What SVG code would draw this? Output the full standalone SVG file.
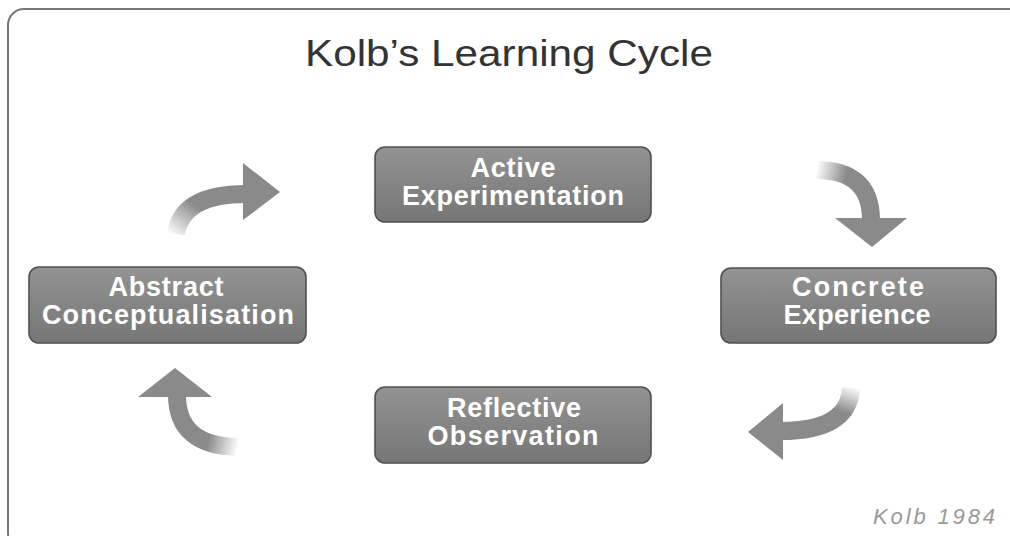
<svg xmlns="http://www.w3.org/2000/svg" width="1010" height="536" viewBox="0 0 1010 536">
<style>
.title{font-family:"Liberation Sans",Arial,sans-serif;font-size:36px;fill:#333;text-anchor:middle}
.lbl{font-family:"Liberation Sans",Arial,sans-serif;font-size:27px;font-weight:bold;fill:#fff;text-anchor:middle}
.box{fill:url(#boxg);stroke:#505050;stroke-width:1.6}
.shaft{fill:none;stroke-width:18}
.head{fill:#8a8a8a}
.cite{font-family:"Liberation Sans",Arial,sans-serif;font-size:22px;font-style:italic;fill:#999;text-anchor:end}
</style>
<defs>
<linearGradient id="boxg" x1="0" y1="0" x2="0" y2="1">
<stop offset="0" stop-color="#939393"/>
<stop offset="1" stop-color="#767676"/>
</linearGradient>
<linearGradient id="g1" gradientUnits="userSpaceOnUse" x1="172" y1="236" x2="194" y2="204">
<stop offset="0" stop-color="#8a8a8a" stop-opacity="0"/>
<stop offset="1" stop-color="#8a8a8a"/>
</linearGradient>
<linearGradient id="g2" gradientUnits="userSpaceOnUse" x1="816" y1="170" x2="846" y2="176">
<stop offset="0" stop-color="#8a8a8a" stop-opacity="0"/>
<stop offset="1" stop-color="#8a8a8a"/>
</linearGradient>
<linearGradient id="g3" gradientUnits="userSpaceOnUse" x1="852" y1="386" x2="843" y2="412">
<stop offset="0" stop-color="#8a8a8a" stop-opacity="0"/>
<stop offset="1" stop-color="#8a8a8a"/>
</linearGradient>
<linearGradient id="g4" gradientUnits="userSpaceOnUse" x1="238" y1="448" x2="208" y2="441">
<stop offset="0" stop-color="#8a8a8a" stop-opacity="0"/>
<stop offset="1" stop-color="#8a8a8a"/>
</linearGradient>
</defs>
<rect x="8" y="9" width="1030" height="540" rx="16" fill="#fff" stroke="#777" stroke-width="2"/>
<text class="title" x="509" y="66" textLength="408" lengthAdjust="spacingAndGlyphs">Kolb’s Learning Cycle</text>
<g id="connectors">
<path class="shaft" stroke="url(#g1)" d="M176 234 Q182 194 246 194"/>
<polygon class="head" points="243,163 280,192 243,220"/>
<path class="shaft" stroke="url(#g2)" d="M816 170 Q871 170 871 220"/>
<polygon class="head" points="835,218 907,218 872,247"/>
<path class="shaft" stroke="url(#g3)" d="M851 388 Q849 431 781 431"/>
<polygon class="head" points="783,403 748,432 783,460"/>
<path class="shaft" stroke="url(#g4)" d="M238 447 Q177 446 177 395"/>
<polygon class="head" points="138,397 175,368 212,397"/>
</g>
<g id="active">
<rect class="box" x="375" y="147" width="276" height="75" rx="10"/>
<text class="lbl" x="513" y="177" textLength="85">Active</text>
<text class="lbl" x="513" y="205" textLength="222">Experimentation</text>
</g>
<g id="concrete">
<rect class="box" x="721" y="268" width="275" height="75" rx="10"/>
<text class="lbl" x="858" y="296" textLength="132">Concrete</text>
<text class="lbl" x="857" y="324" textLength="147">Experience</text>
</g>
<g id="reflective">
<rect class="box" x="375" y="387" width="276" height="76" rx="10"/>
<text class="lbl" x="514" y="417" textLength="134">Reflective</text>
<text class="lbl" x="513" y="445" textLength="171">Observation</text>
</g>
<g id="abstract">
<rect class="box" x="29" y="267" width="277" height="76" rx="10"/>
<text class="lbl" x="166" y="296" textLength="115">Abstract</text>
<text class="lbl" x="168" y="324" textLength="252">Conceptualisation</text>
</g>
<text class="cite" x="995" y="524" textLength="122">Kolb 1984</text>
</svg>
